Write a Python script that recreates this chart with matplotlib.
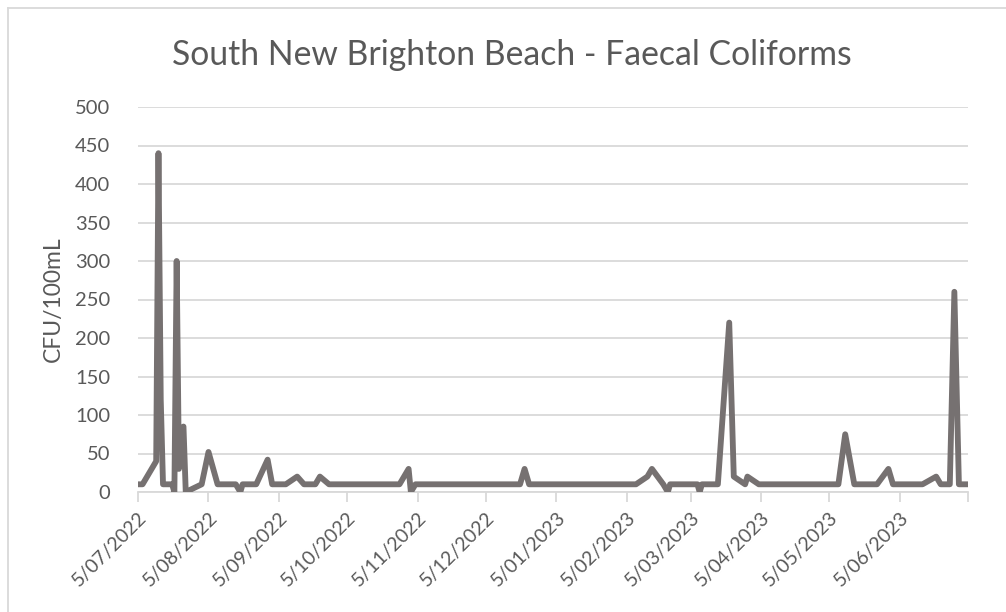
import datetime as dt
import matplotlib
matplotlib.use("Agg")
import matplotlib.pyplot as plt
import matplotlib.transforms as mtransforms
from matplotlib.lines import Line2D

# sample dates and counts
sample_dates = [
    "2022-07-05", "2022-07-07", "2022-07-13", "2022-07-14", "2022-07-15",
    "2022-07-16", "2022-07-20", "2022-07-21", "2022-07-22", "2022-07-23",
    "2022-07-25", "2022-07-26", "2022-08-02", "2022-08-05", "2022-08-09",
    "2022-08-17", "2022-08-19", "2022-08-20", "2022-08-26", "2022-08-31",
    "2022-09-02", "2022-09-08", "2022-09-13", "2022-09-16", "2022-09-21",
    "2022-09-23", "2022-09-27", "2022-10-28", "2022-11-01", "2022-11-02",
    "2022-11-04", "2022-12-20", "2022-12-22", "2022-12-24", "2023-02-09",
    "2023-02-14", "2023-02-16", "2023-02-21", "2023-02-23", "2023-02-24",
    "2023-03-08", "2023-03-09", "2023-03-10", "2023-03-17", "2023-03-22",
    "2023-03-24", "2023-03-29", "2023-03-30", "2023-04-04", "2023-05-09",
    "2023-05-12", "2023-05-16", "2023-05-26", "2023-05-31", "2023-06-02",
    "2023-06-15", "2023-06-21", "2023-06-23", "2023-06-27", "2023-06-29",
    "2023-07-01", "2023-07-05",
]
cfu_values = [
    10, 10, 40, 440, 120,
    10, 10, 0, 300, 30,
    85, 0, 10, 52, 10,
    10, 0, 10, 10, 42,
    10, 10, 20, 10, 10,
    20, 10, 10, 30, 0,
    10, 10, 30, 10, 10,
    20, 30, 10, 0, 10,
    10, 0, 10, 10, 220,
    20, 10, 20, 10, 10,
    75, 10, 10, 30, 10,
    10, 20, 10, 10, 260,
    10, 10,
]
tick_dates = [
    "2022-07-05", "2022-08-05", "2022-09-05", "2022-10-05", "2022-11-05",
    "2022-12-05", "2023-01-05", "2023-02-05", "2023-03-05", "2023-04-05",
    "2023-05-05", "2023-06-05", "2023-07-05",
]
tick_labels = [
    "5/07/2022", "5/08/2022", "5/09/2022", "5/10/2022", "5/11/2022",
    "5/12/2022", "5/01/2023", "5/02/2023", "5/03/2023", "5/04/2023",
    "5/05/2023", "5/06/2023", "",
]

plt.rcParams['font.family'] = ['Lato', 'DejaVu Sans']
TEXT = '#595959'
GRID = '#d9d9d9'

x = [dt.datetime.strptime(d, "%Y-%m-%d") for d in sample_dates]
ticks = [dt.datetime.strptime(d, "%Y-%m-%d") for d in tick_dates]

fig = plt.figure(figsize=(10.06, 6.12), dpi=100)
ax = fig.add_axes([138 / 1006, 1 - 492 / 612, 830 / 1006, 385 / 612])

ax.plot(x, cfu_values, color='#767171', linewidth=4.2,
        solid_joinstyle='round', solid_capstyle='round', zorder=3)

ax.set_xlim(ticks[0], ticks[-1])
ax.set_ylim(0, 500)
ax.set_yticks(range(0, 501, 50))
ax.grid(axis='y', color=GRID, linewidth=1.3)
ax.set_axisbelow(True)

ax.set_xticks(ticks)
ax.set_xticklabels(tick_labels, rotation=45, ha='right', va='top',
                   rotation_mode='anchor')
# nudge the slanted labels so their ends sit just right of each tick
shift = mtransforms.ScaledTranslation(8 / 100, 0, fig.dpi_scale_trans)
for lbl in ax.get_xticklabels():
    lbl.set_transform(lbl.get_transform() + shift)

for side in ['top', 'right', 'left']:
    ax.spines[side].set_visible(False)
ax.spines['bottom'].set_color(GRID)
ax.spines['bottom'].set_linewidth(1.3)

ax.tick_params(axis='x', colors=GRID, length=7, width=1.3, direction='out',
               labelcolor=TEXT, labelsize=14, pad=5)
ax.tick_params(axis='y', length=0, labelcolor=TEXT, labelsize=14.5, pad=20)

ax.set_ylabel("CFU/100mL", color=TEXT, fontsize=16.5, labelpad=8)
fig.text(0.509, 1 - 55 / 612, "South New Brighton Beach - Faecal Coliforms",
         ha='center', va='center', color=TEXT, fontsize=24.3)

# chart frame: only the top and left edges fall inside the picture
fig.add_artist(Line2D([8 / 1006, 1.0], [1 - 8 / 612] * 2,
                      transform=fig.transFigure, color=GRID, linewidth=1.3))
fig.add_artist(Line2D([8 / 1006] * 2, [0.0, 1 - 8 / 612],
                      transform=fig.transFigure, color=GRID, linewidth=1.3))

fig.savefig("out.png", dpi=100)
